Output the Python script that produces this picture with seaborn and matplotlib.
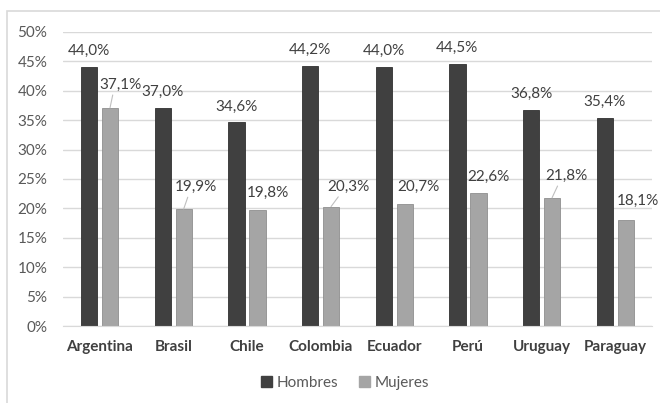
import matplotlib
matplotlib.use("Agg")
import matplotlib.pyplot as plt
from matplotlib.patches import Rectangle
import seaborn as sns
import pandas as pd

# data
paises = ["Argentina", "Brasil", "Chile", "Colombia", "Ecuador", "Perú", "Uruguay", "Paraguay"]
hombres = [44.0, 37.0, 34.6, 44.2, 44.0, 44.5, 36.8, 35.4]
mujeres = [37.1, 19.9, 19.8, 20.3, 20.7, 22.6, 21.8, 18.1]
series = ["Hombres", "Mujeres"]
y_ticks = [0, 5, 10, 15, 20, 25, 30, 35, 40, 45, 50]

# where the Mujeres labels sit relative to the bar top (pixels), and which get a leader line
muj_offsets = [(10, 23), (12, 22), (11, 17), (17, 20), (14, 17), (10, 16), (14, 22), (12, 19)]
muj_leader = [True, True, False, True, False, False, True, False]

colors = {"Hombres": "#404040", "Mujeres": "#A5A5A5"}

df = pd.DataFrame({
    "pais": paises * 2,
    "valor": hombres + mujeres,
    "sexo": ["Hombres"] * len(paises) + ["Mujeres"] * len(paises),
})

sns.set_style("white")
plt.rcParams["font.family"] = ["Lato", "DejaVu Sans"]

fig = plt.figure(figsize=(6.6, 4.03), dpi=100)
ax = fig.add_axes([0.095, 0.191, 0.893, 0.730])

sns.barplot(data=df, x="pais", y="valor", hue="sexo", palette=colors,
            width=0.57, gap=0.22, ax=ax, legend=False, linewidth=0.6,
            edgecolor="#303030", saturation=1)

# edge colours per series
for bar in ax.containers[1]:
    bar.set_edgecolor("#8f8f8f")

ax.set_ylim(0, 50)
ax.set_xlim(-0.5, 7.5)
ax.set_yticks(y_ticks)
ax.set_yticklabels([f"{t}%" for t in y_ticks])
ax.yaxis.grid(True, color="#D9D9D9", linewidth=1)
ax.set_axisbelow(True)
for s in ["top", "right", "left"]:
    ax.spines[s].set_visible(False)
ax.spines["bottom"].set_color("#D9D9D9")
ax.tick_params(axis="y", length=0, pad=11, labelsize=11, labelcolor="#595959")
ax.tick_params(axis="x", length=0, pad=10, labelsize=11, labelcolor="#404040")
for lbl in ax.get_xticklabels():
    lbl.set_fontweight("bold")
ax.set_xlabel("")
ax.set_ylabel("")

def fmt(v):
    return f"{v:.1f}%".replace(".", ",")

# Hombres labels, above the bars
for bar, v in zip(ax.containers[0], hombres):
    ax.annotate(fmt(v), (bar.get_x() + bar.get_width() / 2, bar.get_height()),
                xytext=(0, 16), textcoords="offset pixels", ha="center", va="center",
                fontsize=11, color="#404040")

# Mujeres labels, shifted up-right, some with leader lines
for bar, v, off, lead in zip(ax.containers[1], mujeres, muj_offsets, muj_leader):
    xc = bar.get_x() + bar.get_width() / 2
    arrow = dict(arrowstyle="-", color="#BFBFBF", lw=0.8, shrinkA=0, shrinkB=0,
                 relpos=(0.35, 0.1)) if lead else None
    ax.annotate(fmt(v), (xc, v), xytext=(off[0], off[1]), textcoords="offset pixels",
                ha="center", va="center", fontsize=11, color="#404040",
                arrowprops=arrow)

handles = [Rectangle((0, 0), 1, 1, color=colors[s]) for s in series]
fig.legend(handles, series, loc="center", bbox_to_anchor=(0.523, 0.05), ncol=2,
           frameon=False, handlelength=0.7, handleheight=0.7, handletextpad=0.3,
           columnspacing=1.4, fontsize=11, labelcolor="#595959")

# chart area border
fig.patches.append(Rectangle((7 / 660, -0.05), 1.1, 1 - 11 / 403 + 0.05,
                             transform=fig.transFigure, fill=False,
                             edgecolor="#D9D9D9", linewidth=1.2))

fig.savefig("out.png", dpi=100)
